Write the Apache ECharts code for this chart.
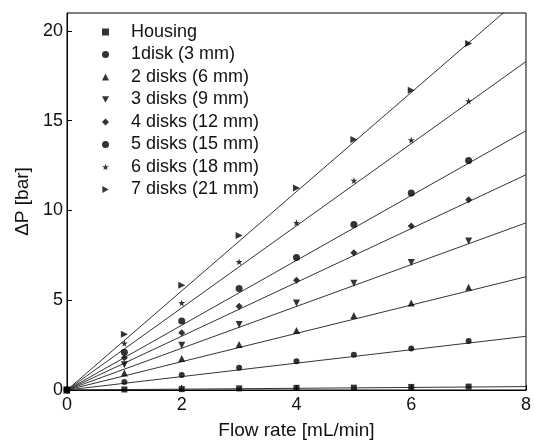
<!DOCTYPE html>
<html>
<head>
<meta charset="utf-8">
<script src="https://cdn.jsdelivr.net/npm/echarts@6/dist/echarts.min.js"></script>
<style>
  html, body { margin: 0; padding: 0; background: #fff; }
  #chart { width: 534px; height: 445px; }
</style>
</head>
<body>
<div id="chart"></div>
<script>
// flow rate [mL/min]
var flowRate = [0, 1, 2, 3, 4, 5, 6, 7];

// measured pressure drop [bar] per configuration
var housing = [0, 0.03, 0.05, 0.09, 0.12, 0.13, 0.17, 0.19];
var disk1 = [0, 0.45, 0.83, 1.24, 1.60, 1.97, 2.31, 2.73];
var disk2 = [0, 0.95, 1.75, 2.53, 3.32, 4.15, 4.85, 5.72];
var disk3 = [0, 1.40, 2.49, 3.65, 4.85, 5.94, 7.10, 8.30];
var disk4 = [0, 1.80, 3.19, 4.67, 6.12, 7.65, 9.13, 10.60];
var disk5 = [0, 2.10, 3.84, 5.66, 7.38, 9.22, 10.97, 12.78];
var disk6 = [0, 2.60, 4.85, 7.14, 9.31, 11.67, 13.92, 16.10];
var disk7 = [0, 3.10, 5.84, 8.61, 11.25, 13.96, 16.69, 19.30];

var names = ['Housing', '1disk (3 mm)', '2 disks (6 mm)', '3 disks (9 mm)',
  '4 disks (12 mm)', '5 disks (15 mm)', '6 disks (18 mm)', '7 disks (21 mm)'];

// linear fits through origin, value at flow rate 8
var fitX = [0, 8];
var fitEnd = [0.19, 2.99, 6.31, 9.31, 11.99, 14.44, 18.3, 22.1];

var xTicks = [0, 2, 4, 6, 8];
var yTicks = [0, 5, 10, 15, 20];

var star = 'path://M50,0 L61,35 L98,35 L68,57 L79,91 L50,70 L21,91 L32,57 L2,35 L39,35 Z';
var triDown = 'path://M0,0 L10,0 L5,9 Z';
var triRight = 'path://M0,0 L9,5 L0,10 Z';
var marks = [
  { symbol: 'rect', size: 6 },
  { symbol: 'circle', size: 6 },
  { symbol: 'triangle', size: 7 },
  { symbol: triDown, size: 7 },
  { symbol: 'diamond', size: 7 },
  { symbol: 'circle', size: 7 },
  { symbol: star, size: 7 },
  { symbol: triRight, size: 7 }
];
var allData = [housing, disk1, disk2, disk3, disk4, disk5, disk6, disk7];

var font = 'Liberation Sans';
var chart = echarts.init(document.getElementById('chart'));

var series = [];
// fit lines first so markers sit on top
allData.forEach(function (d, i) {
  series.push({
    name: 'fit ' + i,
    type: 'line',
    data: [[fitX[0], 0], [fitX[1], fitEnd[i]]],
    showSymbol: false,
    clip: true,
    silent: true,
    lineStyle: { color: '#333', width: 1 },
    z: 1
  });
});
allData.forEach(function (d, i) {
  series.push({
    name: names[i],
    type: 'scatter',
    data: flowRate.map(function (x, k) { return [x, d[k]]; }),
    symbol: marks[i].symbol,
    symbolSize: marks[i].size,
    itemStyle: { color: '#000' },
    z: 3
  });
});

var option = {
  animation: false,
  backgroundColor: '#fff',
  grid: {
    left: 67, right: 6, top: 13, bottom: 53,
    show: true, borderColor: '#000', borderWidth: 1
  },
  legend: {
    data: names.map(function (n, i) { return { name: n, icon: marks[i].symbol }; }),
    orient: 'vertical',
    left: 97,
    top: 18,
    itemWidth: 7,
    itemHeight: 7,
    itemGap: 4.5,
    textStyle: {
      fontFamily: font, fontSize: 18, color: '#111', lineHeight: 17,
      padding: [0, 0, 0, 17]
    }
  },
  xAxis: {
    type: 'value',
    min: xTicks[0],
    max: xTicks[xTicks.length - 1],
    interval: 2,
    name: 'Flow rate [mL/min]',
    nameLocation: 'middle',
    nameGap: 31,
    nameTextStyle: { fontFamily: font, fontSize: 19, color: '#111' },
    axisLine: { lineStyle: { color: '#000', width: 1 } },
    axisTick: { inside: true, length: 5, lineStyle: { color: '#000' } },
    axisLabel: { fontFamily: font, fontSize: 18, color: '#111', margin: 6 },
    splitLine: { show: false }
  },
  yAxis: {
    type: 'value',
    min: yTicks[0],
    max: 21,
    interval: 5,
    name: '\u0394P [bar]',
    nameLocation: 'middle',
    nameGap: 35,
    nameTextStyle: { fontFamily: font, fontSize: 19, color: '#111' },
    axisLine: { lineStyle: { color: '#000', width: 1 } },
    axisTick: { inside: true, length: 5, lineStyle: { color: '#000' } },
    axisLabel: { fontFamily: font, fontSize: 18, color: '#111', margin: 4, showMaxLabel: false },
    splitLine: { show: false }
  },
  series: series
};

chart.setOption(option);
</script>
</body>
</html>
